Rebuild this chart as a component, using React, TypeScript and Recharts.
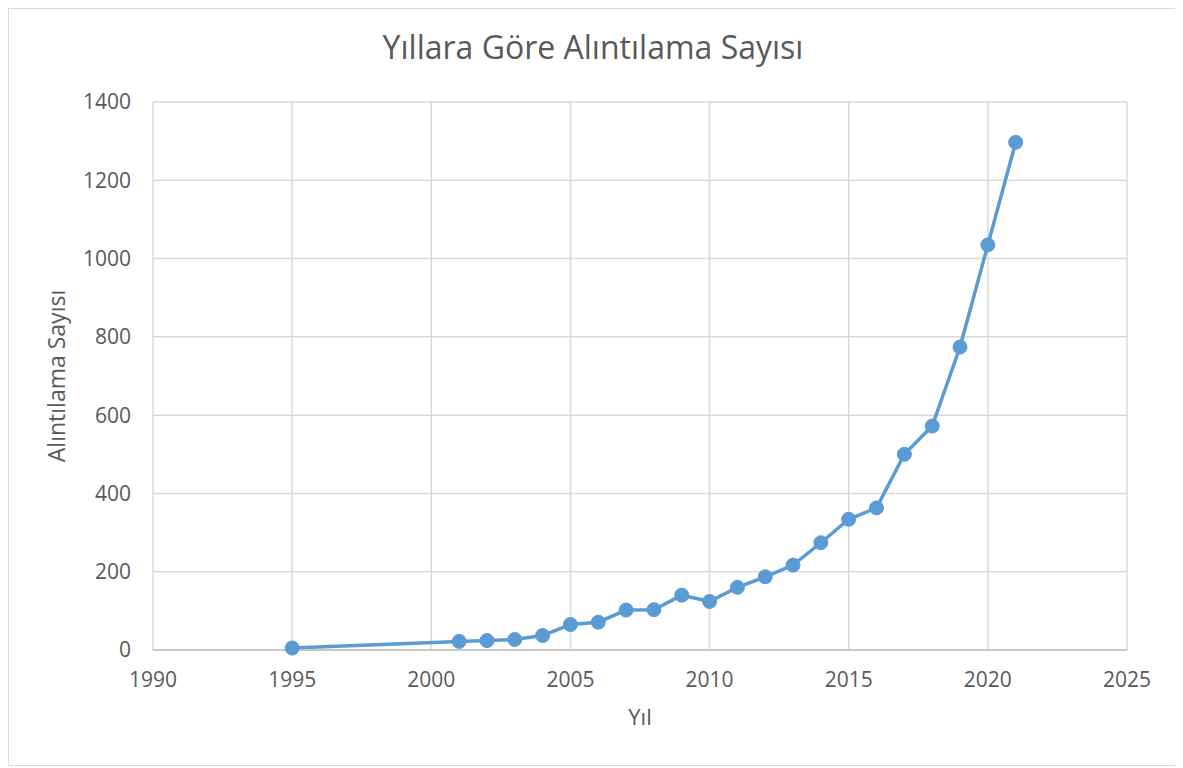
import { CartesianGrid, Line, LineChart, XAxis, YAxis } from "recharts";

const yillar = [1995, 2001, 2002, 2003, 2004, 2005, 2006, 2007, 2008, 2009, 2010, 2011, 2012, 2013, 2014, 2015, 2016, 2017, 2018, 2019, 2020, 2021];
const atiflar = [5, 22, 24, 27, 37, 65, 71, 102, 103, 140, 124, 160, 187, 217, 274, 334, 363, 500, 572, 774, 1035, 1297];
const xTikler = [1990, 1995, 2000, 2005, 2010, 2015, 2020, 2025];
const yTikler = [0, 200, 400, 600, 800, 1000, 1200, 1400];

const veri = yillar.map((yil, i) => ({ yil, atif: atiflar[i] }));

const yazi = "'Open Sans', sans-serif";
const gri = "#595959";

export default function App() {
  return (
    <div
      style={{
        position: "relative",
        width: 1168,
        height: 756,
        border: "1px solid #d9d9d9",
        background: "#fff",
        fontFamily: yazi,
      }}
    >
      <div
        style={{
          position: "absolute",
          top: 16,
          left: 0,
          width: "100%",
          textAlign: "center",
          fontSize: 32,
          color: gri,
        }}
      >
        Yıllara Göre Alıntılama Sayısı
      </div>
      <LineChart
        width={1168}
        height={756}
        data={veri}
        margin={{ top: 93, right: 50, bottom: 40, left: 30 }}
      >
        <CartesianGrid stroke="#d9d9d9" strokeWidth={1.5} />
        <XAxis
          dataKey="yil"
          type="number"
          domain={[1990, 2025]}
          ticks={xTikler}
          stroke="#bfbfbf"
          strokeWidth={1.5}
          tickLine={false}
          tickSize={0}
          tickMargin={22}
          height={75}
          tick={{ fill: gri, fontSize: 21, fontFamily: yazi }}
          label={{ value: "Yıl", position: "insideBottom", offset: 0, fill: gri, fontSize: 22, fontFamily: yazi }}
        />
        <YAxis
          type="number"
          domain={[0, 1400]}
          ticks={yTikler}
          axisLine={false}
          tickLine={false}
          tickSize={0}
          tickMargin={22}
          width={114}
          tick={{ fill: gri, fontSize: 21, fontFamily: yazi }}
          label={{ value: "Alıntılama Sayısı", angle: -90, position: "insideLeft", offset: 18, fill: gri, fontSize: 23, fontFamily: yazi, style: { textAnchor: "middle" } }}
        />
        <Line
          dataKey="atif"
          stroke="#5b9bd5"
          strokeWidth={3.5}
          dot={{ r: 7, fill: "#5b9bd5", stroke: "#5b9bd5", strokeWidth: 1 }}
          isAnimationActive={false}
        />
      </LineChart>
    </div>
  );
}
